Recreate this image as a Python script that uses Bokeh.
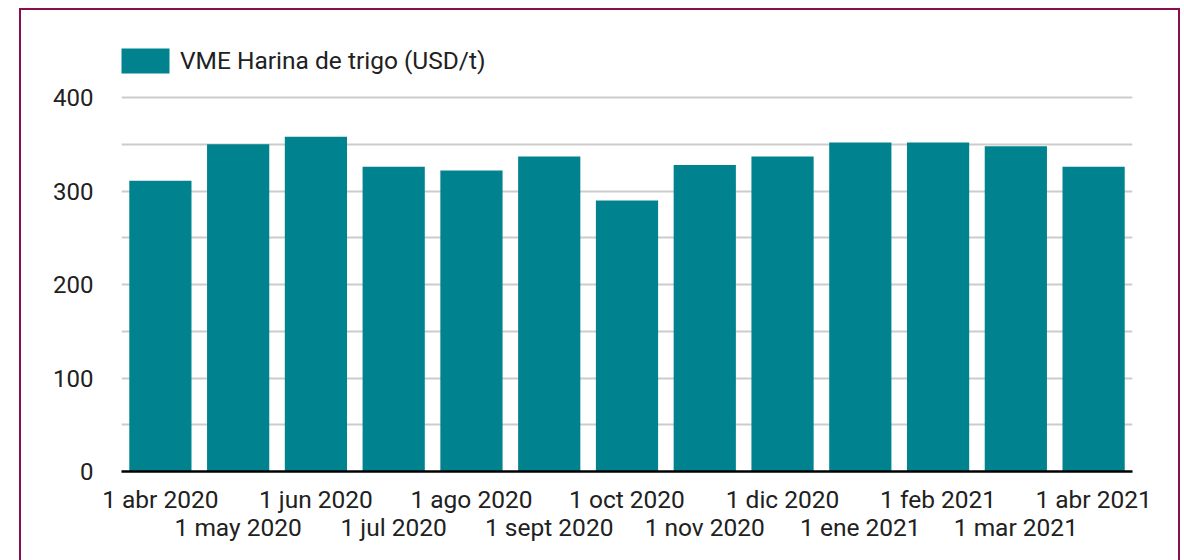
from bokeh.plotting import figure
from bokeh.models import Range1d, FixedTicker, LinearAxis
from bokeh.embed import file_html
from bokeh.resources import INLINE

months = ["1 abr 2020", "1 may 2020", "1 jun 2020", "1 jul 2020", "1 ago 2020",
          "1 sept 2020", "1 oct 2020", "1 nov 2020", "1 dic 2020", "1 ene 2021",
          "1 feb 2021", "1 mar 2021", "1 abr 2021"]
values = [311, 350, 358, 326, 322, 337, 290, 328, 337, 352, 352, 348, 326]
series_name = "VME Harina de trigo (USD/t)"
y_ticks = [0, 100, 200, 300, 400]
y_minor = [50, 150, 250, 350]

TEXT = "#212121"
FONT = "Roboto"
FS = "24.5px"
MAROON = "#880E4F"

idx = list(range(len(months)))

p = figure(width=1157, height=550, output_backend="svg", toolbar_location=None,
           x_range=Range1d(-0.5, len(months) - 0.5),
           y_range=Range1d(0, 460), x_axis_location=None,
           min_border_left=100, min_border_right=50, min_border_top=31, min_border_bottom=91,
           styles={"margin-left": "19px", "margin-top": "8px",
                   "border-top": f"2px solid {MAROON}",
                   "border-left": f"2px solid {MAROON}",
                   "border-right": f"2px solid {MAROON}",
                   "box-sizing": "content-box"})
p.outline_line_color = None
p.background_fill_color = "white"
p.border_fill_color = "white"

p.vbar(x=idx, top=values, width=0.8, fill_color="#00838F", line_color=None,
       legend_label=series_name)

# y axis
p.yaxis.ticker = FixedTicker(ticks=y_ticks, minor_ticks=y_minor)
p.yaxis.axis_line_color = None
p.yaxis.major_tick_line_color = None
p.yaxis.minor_tick_line_color = None
p.yaxis.major_label_standoff = 22
p.yaxis.major_label_text_font = FONT
p.yaxis.major_label_text_font_size = "24px"
p.yaxis.major_label_text_color = TEXT

p.ygrid.grid_line_color = "#CCCCCC"
p.ygrid.grid_line_width = 2
p.ygrid.minor_grid_line_color = "#CCCCCC"
p.ygrid.minor_grid_line_width = 2

# x axes (staggered labels)
even = [i for i in idx if i % 2 == 0]
odd = [i for i in idx if i % 2 == 1]

ax1 = LinearAxis(ticker=FixedTicker(ticks=even, minor_ticks=[]),
                 major_label_overrides={i: months[i] for i in even})
ax1.axis_line_color = "black"
ax1.axis_line_width = 2.5
ax1.major_tick_line_color = None
ax1.minor_tick_line_color = None
ax1.major_label_standoff = 7
ax1.major_label_text_font = FONT
ax1.major_label_text_font_size = FS
ax1.major_label_text_color = TEXT
p.add_layout(ax1, "below")

ax2 = LinearAxis(ticker=FixedTicker(ticks=odd, minor_ticks=[]),
                 major_label_overrides={i: months[i] for i in odd})
ax2.axis_line_color = None
ax2.major_tick_line_color = None
ax2.minor_tick_line_color = None
ax2.major_label_standoff = -10
ax2.major_label_text_font = FONT
ax2.major_label_text_font_size = FS
ax2.major_label_text_color = TEXT
p.add_layout(ax2, "below")
p.xgrid.grid_line_color = None

# legend
lg = p.legend[0]
lg.location = (-6, 395)
lg.orientation = "horizontal"
lg.glyph_width = 60
lg.glyph_height = 31
lg.label_standoff = 5
lg.label_text_font = FONT
lg.label_text_font_size = FS
lg.label_text_color = TEXT
lg.border_line_color = None
lg.background_fill_alpha = 0
lg.padding = 0
lg.margin = 0

open("out.html", "w").write(file_html(p, INLINE))
